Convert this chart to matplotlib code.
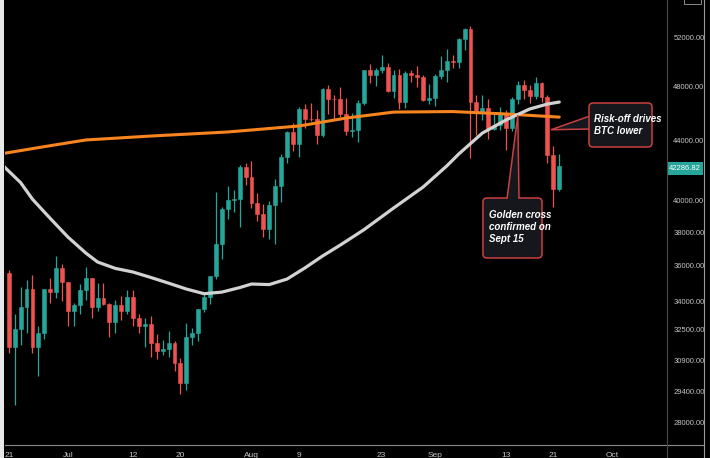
import matplotlib
matplotlib.use("Agg")
import matplotlib.pyplot as plt
from matplotlib.patches import FancyBboxPatch, Polygon, Rectangle
from matplotlib.ticker import NullLocator, FixedLocator

# ---------------- data ----------------
# daily candles, day 0 = 21 Jun 2021 ... day 93 = 22 Sep 2021
opens = [35600, 31600, 32500, 33700, 34700, 31600, 32300, 34700, 34500, 35900,
         35050, 33500, 33800, 34650, 35300, 33700, 34200, 33850, 32900, 33800,
         33500, 34250, 33100, 32700, 32800, 31800, 31400, 31500, 31800, 30800,
         29800, 32100, 32300, 33600, 34250, 35400, 37300, 39450, 40000, 40050,
         42200, 41500, 39850, 39150, 38200, 39700, 40900, 42850, 44650, 43800,
         46300, 45600, 45550, 44400, 47850, 47100, 47050, 45950, 44700, 44800,
         46750, 49300, 48900, 49300, 49550, 47700, 48950, 46850, 49050, 48900,
         48800, 47000, 47150, 48850, 49300, 50050, 49950, 51800, 52700, 46850,
         46100, 46400, 44850, 45150, 46050, 44950, 47100, 48150, 47750, 47300,
         48300, 47250, 43000, 40700]
highs = [35750, 33300, 34800, 35200, 35500, 32700, 34700, 35300, 36600, 36100,
         35050, 33900, 34950, 35950, 35300, 35000, 35000, 33900, 34100, 34300,
         34600, 34650, 33300, 33100, 33200, 32250, 31950, 32400, 31900, 31050,
         32850, 32600, 33600, 34500, 35400, 40550, 39550, 40900, 40650, 42300,
         42450, 42600, 40450, 39750, 39950, 41400, 43100, 44700, 45300, 46500,
         46700, 46800, 46250, 47900, 48150, 47400, 48000, 47150, 46000, 47000,
         49350, 49800, 49500, 50500, 49900, 49300, 49400, 49200, 49350, 49650,
         48900, 48250, 49000, 50400, 51000, 50550, 51900, 52800, 52950, 47350,
         47400, 47050, 45950, 46450, 46250, 47250, 48450, 48500, 48150, 48800,
         48350, 47350, 43650, 43100]
lows = [31300, 28800, 31700, 32300, 31300, 30150, 32000, 33900, 34200, 34000,
        32700, 32700, 33300, 34100, 33100, 33500, 33800, 32100, 32300, 33000,
        33300, 32700, 32300, 31600, 31100, 31000, 31200, 31100, 30400, 29300,
        29500, 31700, 31900, 33400, 33850, 35250, 36400, 38800, 39250, 38300,
        41000, 39500, 38700, 37700, 37600, 37300, 39900, 42500, 43300, 42900,
        44900, 45400, 43800, 44300, 45950, 45550, 45700, 44400, 44250, 43950,
        46650, 48300, 48100, 49100, 47600, 47150, 46350, 46400, 48400, 48000,
        46900, 46700, 46550, 48600, 48400, 49500, 49500, 50900, 42800, 44400,
        45500, 44150, 44750, 44750, 43400, 44700, 46700, 47050, 46800, 47100,
        46850, 42500, 39600, 40600]
closes = [31600, 32500, 33700, 34700, 31600, 32300, 34700, 34500, 35900, 35050,
          33500, 33800, 34650, 35300, 33700, 34200, 33850, 32900, 33800, 33500,
          34250, 33100, 32700, 32800, 31800, 31400, 31500, 31800, 30800, 29800,
          32100, 32300, 33600, 34250, 35400, 37300, 39450, 40000, 40050, 42200,
          41500, 39850, 39150, 38200, 39700, 40900, 42850, 44650, 43800, 46300,
          45600, 45550, 44400, 47850, 47100, 47050, 45950, 44700, 44800, 46750,
          49300, 48900, 49300, 49550, 47700, 48950, 46850, 49050, 48900, 48800,
          47000, 47150, 48850, 49300, 50050, 49950, 51800, 52700, 46850, 46100,
          46400, 44850, 45150, 46050, 44950, 47100, 48150, 47750, 47300, 48300,
          47250, 43000, 40700, 42286.82]

# 50-day moving average (grey)
ma50_days = [-1, 2, 4, 7, 10, 13, 15, 18, 21, 24, 27, 30, 33, 36, 39, 41, 44,
             47, 50, 53, 56, 60, 65, 70, 74, 76, 80, 84, 88, 91, 93]
ma50_vals = [42300, 41150, 40070, 38850, 37700, 36750, 36220, 35850, 35640,
             35330, 35010, 34680, 34420, 34510, 34760, 34960, 34930, 35240,
             35870, 36570, 37220, 38150, 39500, 40860, 42270, 43080, 44560,
             45510, 46320, 46690, 46840]

# 200-day moving average (orange)
ma200_days = [-1, 6, 13, 24, 37, 49, 57, 65, 75, 84, 93]
ma200_vals = [43120, 43600, 44070, 44350, 44640, 45070, 45650, 46090, 46130,
              45950, 45720]

ytick_vals = [28000, 29400, 30900, 32500, 34000, 36000, 38000, 40000, 44000, 48000, 52000]
xtick_days = [0, 10, 21, 29, 41, 49, 63, 72, 84, 92, 102]
xtick_labels = ["21", "Jul", "12", "20", "Aug", "9", "23", "Sep", "13", "21", "Oct"]

last_price = "42286.82"
note_cross = "Golden cross\nconfirmed on\nSept 15"
note_risk = "Risk-off drives\nBTC lower"

# ---------------- style ----------------
UP = "#26a69a"
DOWN = "#ef5350"
TXT = "#c4c4c4"
NARROW = ["Liberation Sans Narrow", "Liberation Sans", "DejaVu Sans"]

W, H = 710, 458
fig = plt.figure(figsize=(W / 100, H / 100), dpi=100, facecolor="black")
ax = fig.add_axes([5 / W, 13 / H, 662 / W, 445 / H])
ax.set_facecolor("black")
ax.set_yscale("log")
ax.set_ylim(26990, 55190)
ax.set_xlim(-0.64, 111.2)
for s in ax.spines.values():
    s.set_visible(False)

days = list(range(len(opens)))
colors = [UP if c >= o else DOWN for o, c in zip(opens, closes)]
ax.vlines(days, lows, highs, colors=colors, linewidth=0.9, zorder=2)
bottoms = [min(o, c) for o, c in zip(opens, closes)]
heights = [max(abs(c - o), 1) for o, c in zip(opens, closes)]
ax.bar(days, heights, bottom=bottoms, width=0.66, color=colors,
       edgecolor=colors, linewidth=0.4, zorder=3)

ax.plot(ma200_days, ma200_vals, color="#f7841f", lw=2.2, zorder=4,
        solid_capstyle="round", solid_joinstyle="round")
ax.plot(ma50_days, ma50_vals, color="#d2d2d2", lw=2.3, zorder=5,
        solid_capstyle="round", solid_joinstyle="round")

ax.yaxis.tick_right()
ax.yaxis.set_major_locator(FixedLocator(ytick_vals))
ax.yaxis.set_minor_locator(NullLocator())
ax.set_yticklabels([f"{v:.2f}" for v in ytick_vals])
ax.set_xticks(xtick_days)
ax.set_xticklabels(xtick_labels)
ax.tick_params(axis="y", length=0, pad=4.5, labelsize=5.5, labelcolor=TXT)
ax.tick_params(axis="x", length=0, pad=5, labelsize=6, labelcolor=TXT)
for lab in ax.get_yticklabels() + ax.get_xticklabels():
    lab.set_family(NARROW)

# ---------------- overlay (pixel coordinates) ----------------
ov = fig.add_axes([0, 0, 1, 1], zorder=10)
ov.set_xlim(0, W)
ov.set_ylim(H, 0)
ov.axis("off")
ov.patch.set_alpha(0)


def to_px(d, p):
    x, y = ax.transData.transform((d, p))
    return x, H - y


ov.add_patch(Rectangle((0, 0), 4, H, color="#e8e8e8", lw=0))
ov.plot([5, 704], [445, 445], color="#8a8a8a", lw=0.8)
ov.plot([667, 667], [0, H], color="#4a4a4a", lw=0.8)
ov.plot([703.5, 703.5], [0, H], color="#9a9a9a", lw=0.8)
ov.add_patch(Rectangle((684, -2), 17, 6, facecolor="none", edgecolor="#8a8a8a", lw=0.7))

# last price tag
ov.add_patch(Rectangle((667, 162), 36, 13, color=UP, lw=0))
ov.text(685, 168.5, last_price, color="white", fontsize=5.5, ha="center",
        va="center", family=NARROW)

BOX_FACE = "#15171d"
BOX_EDGE = "#c94040"

# callout: risk-off
tx, ty = to_px(91.6, 44800)
ov.add_patch(Polygon([(tx, ty), (590, 116), (590, 129)], closed=True,
                     facecolor=BOX_FACE, edgecolor=BOX_EDGE, lw=1.1, zorder=3))
ov.add_patch(FancyBboxPatch((589, 103), 63, 44, boxstyle="round,pad=0,rounding_size=4",
                            facecolor=BOX_FACE, edgecolor=BOX_EDGE, lw=1.1, zorder=4))
ov.add_patch(Polygon([(592, 117.2), (592, 127.8), (589.8, 127.8), (589.8, 117.2)],
                     closed=True, facecolor=BOX_FACE, edgecolor="none", zorder=5))
ov.text(594, 125, note_risk, color="white", fontsize=7, fontweight="bold",
        fontstyle="italic", ha="left", va="center", linespacing=1.3,
        family=NARROW, zorder=6)

# callout: golden cross
gx, gy = to_px(86, 45870)
ov.add_patch(Polygon([(gx, gy), (519, 199), (507, 199)], closed=True,
                     facecolor=BOX_FACE, edgecolor=BOX_EDGE, lw=1.1, zorder=3))
ov.add_patch(FancyBboxPatch((483, 198), 59, 60, boxstyle="round,pad=0,rounding_size=4",
                            facecolor=BOX_FACE, edgecolor=BOX_EDGE, lw=1.1, zorder=4))
ov.add_patch(Polygon([(507.8, 197.2), (518.2, 197.2), (518.2, 200.5), (507.8, 200.5)],
                     closed=True, facecolor=BOX_FACE, edgecolor="none", zorder=5))
ov.text(489, 227, note_cross, color="white", fontsize=7, fontweight="bold",
        fontstyle="italic", ha="left", va="center", linespacing=1.3,
        family=NARROW, zorder=6)

fig.savefig("out.png", dpi=100, facecolor=fig.get_facecolor())
